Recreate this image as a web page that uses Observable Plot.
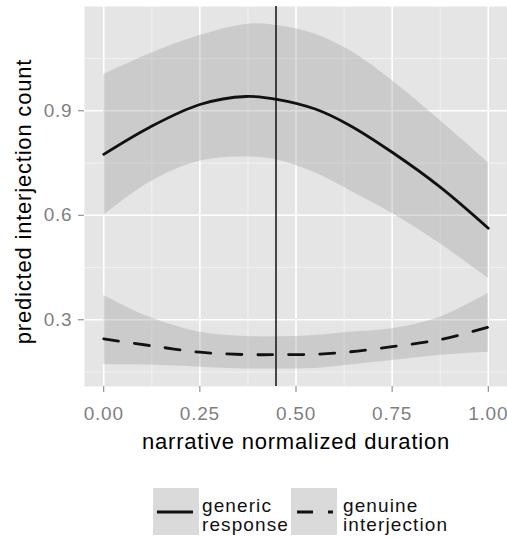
<!DOCTYPE html>
<html>
<head>
<meta charset="utf-8">
<script src="https://cdn.jsdelivr.net/npm/d3@7"></script>
<script src="https://cdn.jsdelivr.net/npm/@observablehq/plot@0.6"></script>
<style>
  html, body { margin: 0; padding: 0; background: #fff; }
  body { width: 507px; height: 539px; overflow: hidden; font-family: "Liberation Sans", Arial, sans-serif; }
  #legend { position: relative; width: 507px; height: 79px; }
  .key { position: absolute; top: 28px; width: 46px; height: 47px; background: #dadada; }
  .lab { position: absolute; top: 36px; font-size: 19px; line-height: 19px; letter-spacing: 1.1px; color: #111; }
</style>
</head>
<body>
<div id="chart"></div>
<div id="legend">
  <div class="key" style="left:153px"><svg width="46" height="47"><line x1="4" x2="40" y1="24" y2="24" stroke="#111" stroke-width="3"/></svg></div>
  <div class="lab" style="left:202px">generic<br>response</div>
  <div class="key" style="left:291px"><svg width="46" height="47"><line x1="6" x2="42" y1="24" y2="24" stroke="#111" stroke-width="3" stroke-dasharray="16,15"/></svg></div>
  <div class="lab" style="left:343px">genuine<br>interjection</div>
</div>
<script>
// x positions (narrative normalized duration)
const xs = [0, 0.12, 0.25, 0.37, 0.45, 0.55, 0.64, 0.75, 0.875, 1.0];
// generic response
const genericFit = [0.775, 0.853, 0.918, 0.941, 0.933, 0.905, 0.858, 0.781, 0.681, 0.563];
const genericHi  = [1.004, 1.064, 1.116, 1.148, 1.145, 1.120, 1.073, 0.987, 0.872, 0.751];
const genericLo  = [0.600, 0.695, 0.755, 0.767, 0.759, 0.722, 0.671, 0.605, 0.518, 0.419];
// genuine interjection
const genuineFit = [0.245, 0.226, 0.207, 0.200, 0.200, 0.201, 0.208, 0.223, 0.243, 0.279];
const genuineHi  = [0.370, 0.307, 0.264, 0.252, 0.251, 0.255, 0.264, 0.274, 0.307, 0.376];
const genuineLo  = [0.171, 0.170, 0.164, 0.159, 0.159, 0.160, 0.170, 0.183, 0.198, 0.207];
// vertical reference line
const refX = [0.448];
// ticks
const xMajor = [0, 0.25, 0.5, 0.75, 1];
const xMinor = [0.125, 0.375, 0.625, 0.875];
const yMajor = [0.3, 0.6, 0.9];
const yMinor = [0.15, 0.45, 0.75, 1.05];
const xTitle = "narrative normalized duration";
const yTitle = "predicted interjection count";

const generic = xs.map((x, i) => ({x, fit: genericFit[i], lo: genericLo[i], hi: genericHi[i]}));
const genuine = xs.map((x, i) => ({x, fit: genuineFit[i], lo: genuineLo[i], hi: genuineHi[i]}));

const chart = Plot.plot({
  width: 507,
  height: 460,
  marginLeft: 84,
  marginRight: 0,
  marginTop: 6,
  marginBottom: 74,
  style: {fontFamily: "'Liberation Sans', Arial, sans-serif", letterSpacing: "0.8px", background: "#fff", overflow: "visible"},
  x: {domain: [-0.05, 1.05]},
  y: {domain: [0.1085, 1.1994]},
  marks: [
    Plot.frame({fill: "#e5e5e5"}),
    Plot.ruleX(xMinor, {stroke: "#f2f2f2", strokeWidth: 1}),
    Plot.ruleY(yMinor, {stroke: "#f2f2f2", strokeWidth: 1}),
    Plot.ruleX(xMajor, {stroke: "#ffffff", strokeWidth: 1.6}),
    Plot.ruleY(yMajor, {stroke: "#ffffff", strokeWidth: 1.6}),
    Plot.areaY(generic, {x: "x", y1: "lo", y2: "hi", fill: "#999999", fillOpacity: 0.33, curve: "catmull-rom"}),
    Plot.areaY(genuine, {x: "x", y1: "lo", y2: "hi", fill: "#999999", fillOpacity: 0.33, curve: "catmull-rom"}),
    Plot.line(generic, {x: "x", y: "fit", stroke: "#111", strokeWidth: 2.8, curve: "catmull-rom"}),
    Plot.line(genuine, {x: "x", y: "fit", stroke: "#111", strokeWidth: 2.8, strokeDasharray: "15,16", curve: "catmull-rom"}),
    Plot.ruleX(refX, {stroke: "#111", strokeWidth: 1.5}),
    Plot.axisX(xMajor, {tickSize: 6, tickPadding: 14, color: "#7f7f7f", fontSize: 19, label: null, tickFormat: d => d.toFixed(2)}),
    Plot.axisY(yMajor, {tickSize: 6, tickPadding: 6, color: "#7f7f7f", fontSize: 19, label: null, tickFormat: d => d.toFixed(1)}),
    Plot.text([xTitle], {text: d => d, frameAnchor: "bottom", dy: 55.3, lineAnchor: "middle", textAnchor: "middle", fontSize: 22, fill: "#000"}),
    Plot.text([yTitle], {text: d => d, frameAnchor: "left", dx: -60.6, dy: 5, rotate: -90, lineAnchor: "middle", textAnchor: "middle", fontSize: 22, fill: "#000"})
  ]
});
document.getElementById("chart").appendChild(chart);
</script>
</body>
</html>
